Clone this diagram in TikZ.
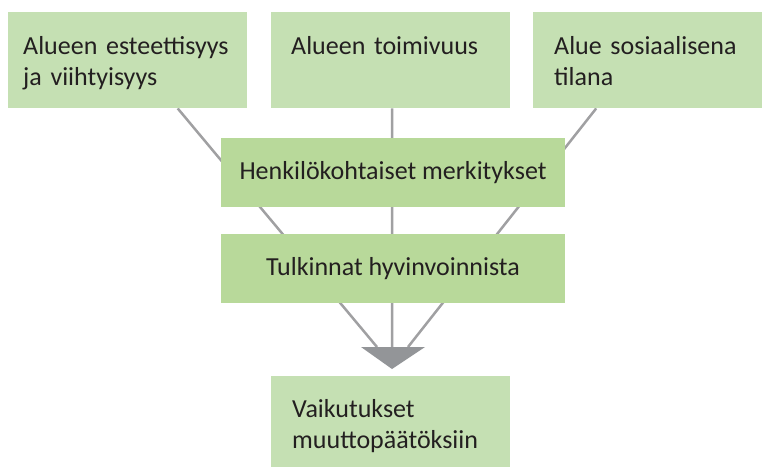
\documentclass[tikz,border=0pt]{standalone}
\usepackage{fontspec}
\setmainfont{Carlito}
\usepackage{tikz}
\usetikzlibrary{positioning,backgrounds}
\usepackage{xcolor}

\definecolor{topgreen}{HTML}{C5E0B3}
\definecolor{midgreen}{HTML}{B8D99A}
\definecolor{linegray}{HTML}{A0A0A2}
\definecolor{arrowgray}{HTML}{939598}
\definecolor{textgray}{HTML}{231F20}

\begin{document}
\begin{tikzpicture}[x=1pt,y=-1pt,
  every node/.style={font=\fontsize{26}{31}\selectfont, text=textgray},
  topbox/.style={fill=topgreen, anchor=north west, align=left,
    inner ysep=0pt, text height=42pt, text depth=54pt},
  midbox/.style={fill=midgreen, minimum width=344pt, minimum height=69pt, inner sep=0pt},
  link/.style={draw=linegray, line width=2.5pt}]
  \useasboundingbox (0,0) rectangle (762,467);
  % Three starting boxes along the top
  \node[topbox, inner xsep=15pt, text width=209pt] (esteet) at (8,12)
    {Alueen esteettisyys\\ja viihtyisyys};
  \node[topbox, inner xsep=20pt, text width=199pt] (toimiv) at (271,12)
    {Alueen toimivuus};
  \node[topbox, inner xsep=21pt, text width=187pt] (sosiaal) at (533,12)
    {Alue sosiaalisena\\tilana};
  % Two boxes in the middle
  \node[midbox] (henk) at (393,172.5) {Henkilökohtaiset merkitykset};
  \node[midbox, below=27pt of henk] (tulk) {Tulkinnat hyvinvoinnista};
  % Result box
  \node[topbox, inner xsep=21pt, text width=197pt, text height=41pt, text depth=50pt]
    (vaikut) at (271,376) {Vaikutukset\\muuttopäätöksiin};
  % Arrow head and lines behind the middle boxes
  \coordinate (tri) at (392,347);
  \fill[arrowgray] (361,347) -- (425,347) -- (392,369) -- cycle;
  \begin{scope}[on background layer]
    \draw[link] ([xshift=50pt]esteet.south) -- ([xshift=-15pt]tri);
    \draw[link] ([xshift=1.5pt]toimiv.south) -- (tri);
    \draw[link] ([xshift=-51.5pt]sosiaal.south) -- ([xshift=16pt]tri);
  \end{scope}
\end{tikzpicture}
\end{document}
